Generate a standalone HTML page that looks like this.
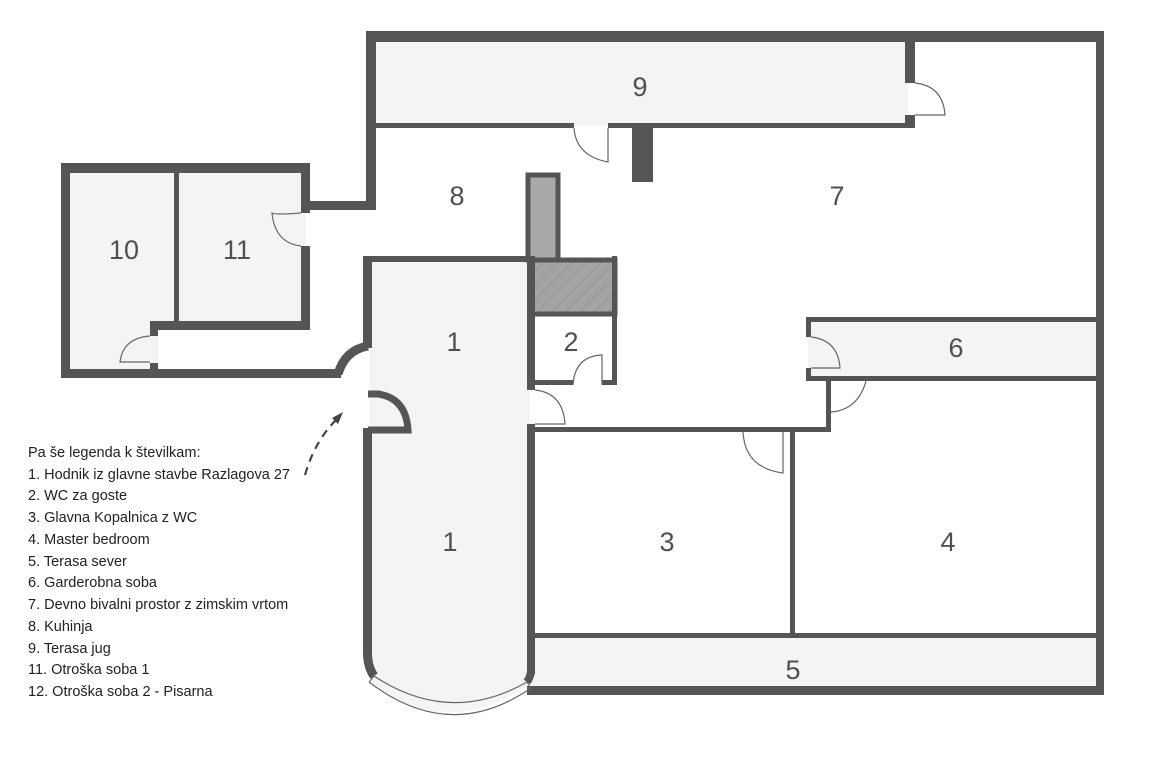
<!DOCTYPE html>
<html><head><meta charset="utf-8"><style>
html,body{margin:0;padding:0;background:#fff;}
svg{display:block;}
.lbl{font-family:"Liberation Sans",sans-serif;font-size:27px;fill:#505050;text-anchor:middle;}
.leg{font-family:"Liberation Sans",sans-serif;font-size:14.5px;fill:#222;}
</style></head><body>
<svg width="1152" height="768" viewBox="0 0 1152 768" xmlns="http://www.w3.org/2000/svg">
<defs>
<pattern id="h" width="10" height="10" patternUnits="userSpaceOnUse" patternTransform="rotate(45)">
<rect width="10" height="10" fill="#a4a4a4"/><line x1="0" y1="0" x2="0" y2="10" stroke="#8e8e8e" stroke-width="1.5"/>
</pattern>
</defs>
<g fill="#f4f4f4">
<rect x="372" y="42" width="536" height="84"/>
<rect x="66" y="168" width="240" height="205"/>
<path d="M370 262 H530 V684 Q450 740 370 684 Z"/>
<rect x="808" y="320" width="289" height="58"/>
<rect x="532" y="636" width="565" height="52"/>
</g>
<rect x="310" y="330" width="35" height="40" fill="#fff"/>
<rect x="158" y="330" width="150" height="40" fill="#fff"/>
<rect x="528" y="175" width="30" height="85" fill="#a8a8a8" stroke="#555" stroke-width="5"/>
<rect x="530" y="260" width="85" height="54" fill="url(#h)" stroke="#555" stroke-width="5"/>
<g fill="#555">
<rect x="366" y="31" width="736" height="11"/>
<rect x="1096" y="31" width="8" height="664"/>
<rect x="527" y="686" width="577" height="9"/>
<rect x="366" y="31" width="10" height="179"/>
<rect x="306" y="201" width="70" height="9"/>
<rect x="372" y="123" width="202" height="5"/>
<rect x="608" y="123" width="307" height="5"/>
<rect x="905" y="42" width="10" height="41"/>
<rect x="905" y="115" width="10" height="13"/>
<rect x="632" y="128" width="21" height="54"/>
<rect x="61" y="163" width="249" height="10"/>
<rect x="61" y="163" width="9" height="215"/>
<rect x="174" y="170" width="5" height="156"/>
<rect x="150" y="321" width="160" height="9"/>
<rect x="301" y="163" width="9" height="50"/>
<rect x="301" y="246" width="9" height="84"/>
<rect x="150" y="321" width="8" height="15"/>
<rect x="150" y="363" width="8" height="15"/>
<rect x="61" y="369" width="280" height="9"/>
<rect x="368" y="256" width="164" height="6"/>
<rect x="363" y="256" width="9" height="92"/>
<rect x="527" y="256" width="8" height="134"/>
<rect x="527" y="424" width="8" height="250"/>
<rect x="612" y="256" width="5" height="129"/>
<rect x="530" y="380" width="43" height="5"/>
<rect x="602" y="380" width="15" height="5"/>
<rect x="527" y="427" width="304" height="5"/>
<rect x="826" y="376" width="5" height="56"/>
<rect x="790" y="432" width="5" height="204"/>
<rect x="532" y="633" width="566" height="5"/>
<rect x="806" y="317" width="292" height="5"/>
<rect x="806" y="317" width="5" height="20"/>
<rect x="806" y="368" width="5" height="12"/>
<rect x="806" y="376" width="292" height="5"/>
</g>
<g fill="none" stroke="#555">
<path d="M338 374 Q345 350 368 346" stroke-width="9"/>
<path d="M368 394 L378 394 Q406 398 408 430 L368 430" stroke-width="7"/>
<path d="M367.5 428 V650 Q367 666 374 676" stroke-width="9"/>
<path d="M531 670 Q531 676 527 682" stroke-width="8"/>
</g>
<g fill="none" stroke="#666" stroke-width="1.2">
<path d="M374 676 Q450 726 527 682"/>
<path d="M369 682 Q450 744 531 688"/>
<line x1="374" y1="676" x2="369" y2="682"/>
<line x1="527" y1="682" x2="531" y2="688"/>
<path d="M915 83 Q943 86 945 115 L915 115"/>
<path d="M574 128 Q576 156 608 162 L608 128"/>
<path d="M301 213 Q275 215 272 213 Q275 243 301 246"/>
<path d="M150 336 Q123 338 120 362 L150 362"/>
<path d="M573 385 Q575 356 602 355 L602 385"/>
<path d="M535 390 Q563 393 565 424 L535 424"/>
<path d="M811 337 Q838 340 840 368 L811 368"/>
<path d="M831 412 Q858 410 866 381"/>
<path d="M743 432 Q745 468 783 473 L783 432"/>
</g>
<path d="M305 475 Q315 440 338 418" fill="none" stroke="#444" stroke-width="2.2" stroke-dasharray="8,6"/>
<path d="M343 412 L332 418 L338 424 Z" fill="#444"/>
<text class="lbl" x="640" y="96">9</text>
<text class="lbl" x="457" y="205">8</text>
<text class="lbl" x="837" y="205">7</text>
<text class="lbl" x="124" y="259">10</text>
<text class="lbl" x="237" y="259">11</text>
<text class="lbl" x="454" y="351">1</text>
<text class="lbl" x="571" y="351">2</text>
<text class="lbl" x="956" y="357">6</text>
<text class="lbl" x="450" y="551">1</text>
<text class="lbl" x="667" y="551">3</text>
<text class="lbl" x="948" y="551">4</text>
<text class="lbl" x="793" y="679">5</text>
<g class="leg">
<text x="28" y="457">Pa še legenda k številkam:</text>
<text x="28" y="479">1. Hodnik iz glavne stavbe Razlagova 27</text>
<text x="28" y="500">2. WC za goste</text>
<text x="28" y="522">3. Glavna Kopalnica z WC</text>
<text x="28" y="544">4. Master bedroom</text>
<text x="28" y="566">5. Terasa sever</text>
<text x="28" y="587">6. Garderobna soba</text>
<text x="28" y="609">7. Devno bivalni prostor z zimskim vrtom</text>
<text x="28" y="631">8. Kuhinja</text>
<text x="28" y="653">9. Terasa jug</text>
<text x="28" y="674">11. Otroška soba 1</text>
<text x="28" y="696">12. Otroška soba 2 - Pisarna</text>
</g>
</svg>
</body></html>
